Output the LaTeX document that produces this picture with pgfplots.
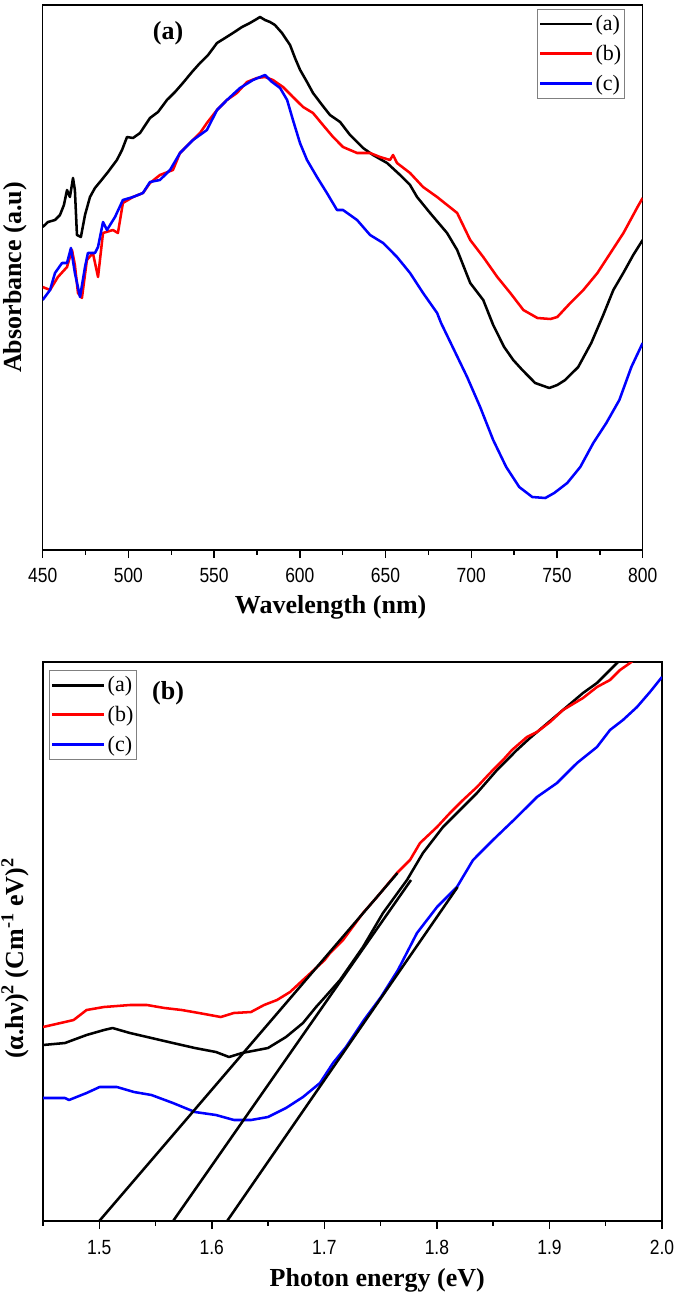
\documentclass[border=0pt]{standalone}
\usepackage{fontspec}
\setmainfont{Liberation Serif}
\newfontfamily\tickfont[FakeStretch=0.85]{Liberation Sans}
\usepackage{pgfplots}
\pgfplotsset{compat=1.18}
\begin{document}
\begin{tikzpicture}
\path[use as bounding box] (0,0) rectangle (508.5pt,-973.5pt);
\pgfplotsset{
  myax/.style={
    scale only axis,
    clip=true,
    axis line style={line width=1.1pt},
    tick align=outside,
    xtick pos=bottom,
    ytick=\empty,
    major tick length=6pt,
    minor tick length=3.4pt,
    every tick/.style={line width=1.1pt, black},
    /pgf/number format/assume math mode=true,
    xticklabel style={font=\tickfont\fontsize{15.4}{18}\selectfont},
    label style={font=\bfseries\fontsize{19.5}{22}\selectfont},
    legend image code/.code={\draw[#1] (0pt,0pt) -- (39pt,0pt);},
    legend image post style={line width=2.2pt},
    legend style={draw=gray, line width=0.6pt, fill=white,
      font=\fontsize{16.5}{19}\selectfont,
      inner xsep=1pt, inner ysep=3pt, row sep=6.5pt,
      nodes={inner sep=1.5pt}},
    legend cell align=left,
    every axis plot/.append style={line width=1.9pt, line join=round},
  }
}
% ---------------- top panel (a)
\begin{axis}[myax,
  at={(32.0pt,-412.5pt)}, anchor=south west,
  width=450pt, height=408.75pt,
  xmin=450, xmax=800, ymin=0, ymax=545,
  xtick={450,500,...,800},
  minor xtick={475,525,...,775},
  xticklabel style={yshift=-4pt},
  xlabel={Wavelength (nm)},
  ylabel={Absorbance (a.u)},
  xlabel style={at={(axis description cs:0.48,-0.1046)}, anchor=center},
  ylabel style={at={(axis description cs:-0.046,0.5)}, anchor=center},
  legend style={at={(axis description cs:0.9705,0.9927)}, anchor=north east},
]
\addplot[black] coordinates {
(450,323) (453.1,328) (457.2,330) (460.1,335) (462.4,345) (464.2,360) (465.9,353) (467.7,372) (468.8,360) (470.0,315) (472.3,313) (474.7,335) (477.6,353) (480.5,362) (483.4,368) (488.1,378) (493.3,390) (496.3,400) (499.2,413) (502.7,412) (506.8,417) (512.6,432) (517.3,438) (522.5,450) (527.2,458) (531.8,467) (537.1,478) (541.8,487) (546.5,495) (551.7,507) (556.4,512) (561.0,517) (566.3,523) (570.9,527) (573.9,530) (576.8,533) (579.7,530) (582.6,528) (585.5,525) (589.6,517) (594.3,505) (597.2,492) (600.2,480) (604.2,468) (607.7,457) (613.0,445) (617.6,435) (623.5,428) (629.3,415) (636.9,402) (642.7,395) (650.9,387) (658.5,375) (664.3,365) (668.4,353) (676.0,337) (685.9,317) (691.8,300) (699.4,267) (707.0,250) (712.8,225) (719.2,203) (724.5,190) (729.8,180) (737.3,167) (745.5,162) (750.2,165) (754.8,170) (762.4,183) (770.0,207) (777.0,235) (782.9,260) (788.7,277) (794.5,295) (800,310)
};
\addlegendentry{(a)}
\addplot[red] coordinates {
(450,263) (454.3,260) (458.9,273) (464.2,283) (467.1,300) (468.8,285) (470.6,257) (472.9,252) (475.8,290) (479.3,297) (482.3,273) (485.2,317) (491.0,320) (493.9,317) (496.8,347) (502.7,353) (508.5,357) (512.6,367) (518.4,375) (526.0,380) (530.1,397) (535.9,407) (541.8,417) (545.8,427) (551.7,440) (557.5,450) (563.3,457) (569.2,468) (575.0,472) (579.7,473) (584.3,470) (590.2,463) (596.0,453) (601.9,443) (607.7,437) (613.5,425) (619.4,413) (625.2,403) (633.4,397) (641.0,397) (646.8,393) (652.6,390) (654.4,395) (656.7,387) (664.3,377) (671.9,363) (680.1,353) (691.8,337) (699.4,310) (707.0,293) (715.2,273) (722.8,257) (730.4,240) (738.6,232) (746.2,231) (750.2,233) (757.8,247) (765.4,260) (773.6,277) (781.2,297) (788.8,317) (797.0,343) (800,352)
};
\addlegendentry{(b)}
\addplot[blue] coordinates {
(450,250) (454.3,260) (457.2,277) (461.3,287) (464.2,287) (466.5,302) (468.8,277) (471.8,253) (474.7,283) (476.4,297) (480.5,297) (482.3,303) (485.2,328) (487.5,320) (492.2,333) (496.8,350) (502.7,353) (508.5,357) (512.6,368) (518.4,370) (524.3,380) (530.1,397) (537.7,410) (545.8,420) (551.7,440) (557.5,450) (565.1,462) (572.7,470) (579.7,475) (583.8,468) (588.5,462) (592.6,450) (596.0,430) (600.1,407) (604.2,390) (610.0,373) (615.8,357) (621.7,340) (625.2,340) (633.4,330) (641.0,315) (648.6,307) (656.7,293) (664.3,277) (671.9,257) (680.1,237) (682.4,227) (690.0,200) (697.6,173) (705.2,143) (712.8,110) (720.4,83) (728.0,63) (735.6,53) (743.2,52) (748.4,57) (756.0,67) (763.6,83) (771.2,107) (778.8,127) (786.4,150) (793.4,183) (800,207)
};
\addlegendentry{(c)}
\node[font=\bfseries\fontsize{19.5}{22}\selectfont] at (rel axis cs:0.209,0.9486) {(a)};
\end{axis}
% ---------------- bottom panel (b)
\begin{axis}[myax,
  at={(32.25pt,-915.75pt)}, anchor=south west,
  width=464.25pt, height=419.25pt,
  xmin=1.45, xmax=2.0, ymin=0, ymax=559,
  xtick={1.5,1.6,...,2.01},
  minor xtick={1.45,1.55,...,1.96},
  xticklabel style={yshift=-5pt, /pgf/number format/.cd, fixed, fixed zerofill, precision=1},
  xlabel={Photon energy (eV)},
  ylabel={(α.hν)\textsuperscript{2} (Cm\textsuperscript{-1} eV)\textsuperscript{2}},
  xlabel style={at={(axis description cs:0.54,-0.1055)}, anchor=center},
  ylabel style={at={(axis description cs:-0.0452,0.47)}, anchor=center},
  legend style={at={(axis description cs:0.0097,0.9857)}, anchor=north west},
]
\addplot[black] coordinates {
(1.45,176) (1.4695,178) (1.4887,186) (1.5042,191) (1.5118,193) (1.5273,188) (1.5464,183) (1.5655,178) (1.5850,173) (1.6037,169) (1.6153,164) (1.6268,168) (1.6499,173) (1.6659,184) (1.6810,198) (1.6926,214) (1.7006,224) (1.7139,241) (1.7343,274) (1.7521,308) (1.7734,341) (1.7876,368) (1.8054,394) (1.8232,414) (1.8356,428) (1.8534,451) (1.8711,471) (1.8827,483) (1.8942,494) (1.9120,511) (1.9298,528) (1.9422,538) (1.9511,548) (1.9600,558) (1.9689,568)
};
\addlegendentry{(a)}
\addplot[red] coordinates {
(1.45,194) (1.4656,198) (1.4772,201) (1.4887,211) (1.5041,214) (1.5272,216) (1.5424,216) (1.5580,213) (1.5733,211) (1.5886,208) (1.6080,204) (1.6195,208) (1.6348,209) (1.6464,216) (1.6579,221) (1.6695,229) (1.6810,241) (1.6926,253) (1.7003,261) (1.7050,268) (1.7166,281) (1.7343,308) (1.7468,324) (1.7645,348) (1.7761,361) (1.7850,378) (1.8001,394) (1.8116,408) (1.8232,421) (1.8356,434) (1.8472,448) (1.8587,461) (1.8667,471) (1.8800,484) (1.8889,489) (1.9005,499) (1.9120,511) (1.9298,523) (1.9422,534) (1.9538,541) (1.9627,551) (1.9716,558) (1.9804,566)
};
\addlegendentry{(b)}
\addplot[blue] coordinates {
(1.45,123) (1.4695,123) (1.4731,121) (1.4887,128) (1.5003,134) (1.5157,134) (1.5309,129) (1.5464,126) (1.5655,118) (1.5850,109) (1.6037,106) (1.6197,101) (1.6348,101) (1.6499,104) (1.6659,113) (1.6810,124) (1.6961,138) (1.7077,158) (1.7192,174) (1.7352,201) (1.7503,224) (1.7654,251) (1.7823,288) (1.8001,314) (1.8178,334) (1.8321,361) (1.8498,381) (1.8711,404) (1.8889,424) (1.9067,438) (1.9245,458) (1.9422,474) (1.9538,491) (1.9653,501) (1.9778,514) (1.9893,529) (2.0,544)
};
\addlegendentry{(c)}
\addplot[black, forget plot] coordinates {(1.500,0) (1.765,348)};
\addplot[black, forget plot] coordinates {(1.5656,0) (1.777,341)};
\addplot[black, forget plot] coordinates {(1.6136,0) (1.8184,334)};
\node[font=\bfseries\fontsize{19.5}{22}\selectfont] at (rel axis cs:0.202,0.9445) {(b)};
\end{axis}
\end{tikzpicture}
\end{document}
